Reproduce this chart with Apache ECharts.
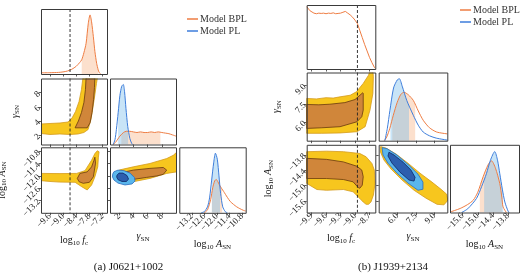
<!DOCTYPE html>
<html>
<head>
<meta charset="utf-8">
<script src="https://cdn.jsdelivr.net/npm/echarts@6/dist/echarts.min.js"></script>
<style>
  html, body { margin: 0; padding: 0; background: #fff; }
  #main { width: 520px; height: 273px; }
</style>
</head>
<body>
<div id="main"></div>
<script>
// ---- tick values ----
var A_FC_TICKS = [-9.6, -9.0, -8.4, -7.8, -7.2];
var A_G_TICKS = [2, 4, 6, 8];
var A_A_TICKS = [-13.2, -12.6, -12.0, -11.4, -10.8];
var B_FC_TICKS = [-9.9, -9.6, -9.3, -9.0, -8.7];
var B_G_TICKS = [6.0, 7.5, 9.0];
var B_A_TICKS = [-15.6, -15.0, -14.4, -13.8];

// injected log10 fc (dashed lines)
var A_FC_TRUE = -8.68;
var B_FC_TRUE = -8.95;

// ---- (a) J0621+1002 : 1D marginals [x, density] ----
var a_fc_bpl = [[-10, 0.02], [-9.6, 0.022], [-9.2, 0.027], [-9.0, 0.035], [-8.8, 0.05], [-8.6, 0.08], [-8.4, 0.13], [-8.25, 0.19], [-8.15, 0.24], [-8.05, 0.36], [-7.95, 0.52], [-7.85, 0.86], [-7.77, 1.0], [-7.7, 0.88], [-7.62, 0.63], [-7.55, 0.38], [-7.47, 0.18], [-7.4, 0.07], [-7.36, 0.03], [-7.3, 0.005]];
var a_g_pl = [[1.15, 0], [1.4, 0.08], [1.6, 0.25], [1.85, 0.53], [2.1, 0.82], [2.35, 0.97], [2.57, 1.0], [2.75, 0.88], [2.95, 0.6], [3.2, 0.3], [3.5, 0.1], [3.75, 0.02], [3.9, 0]];
var a_g_bpl = [[1.15, 0], [1.5, 0.04], [2.1, 0.14], [2.6, 0.2], [3.0, 0.22], [3.5, 0.22], [4.0, 0.21], [4.5, 0.2], [5.0, 0.21], [5.5, 0.2], [6.0, 0.2], [6.5, 0.21], [7.0, 0.2], [7.5, 0.21], [8.0, 0.2], [8.5, 0.19], [9.0, 0.18], [9.5, 0.16], [10.0, 0.14]];
var a_A_pl = [[-12.75, 0], [-12.6, 0.02], [-12.45, 0.1], [-12.35, 0.25], [-12.25, 0.55], [-12.15, 0.85], [-12.07, 1.0], [-11.98, 0.9], [-11.9, 0.62], [-11.82, 0.32], [-11.72, 0.1], [-11.6, 0.02], [-11.5, 0]];
var a_A_bpl = [[-12.6, 0], [-12.45, 0.05], [-12.3, 0.22], [-12.2, 0.42], [-12.1, 0.54], [-12.03, 0.56], [-11.95, 0.52], [-11.85, 0.45], [-11.68, 0.36], [-11.5, 0.26], [-11.36, 0.19], [-11.2, 0.14], [-11.05, 0.1], [-10.9, 0.07], [-10.72, 0.04], [-10.62, 0.03]];
// credible intervals [lo, hi]
var a_fc_bpl_ci = [-8.15, -7.40];
var a_g_bpl_ci = [2.3, 7.8];
var a_g_pl_ci = [1.85, 3.25];
var a_A_bpl_ci = [-12.24, -11.75];
var a_A_pl_ci = [-12.24, -11.85];

// ---- (a) 2D contours [x, y] ----
var a_fcg_bpl_2s = [[-10.0, 3.59], [-9.59, 3.66], [-9.14, 3.73], [-8.77, 3.87], [-8.59, 4.43], [-8.43, 5.35], [-8.27, 6.76], [-8.16, 8.45], [-8.09, 10.2], [-7.43, 10.2], [-7.48, 9.29], [-7.55, 7.74], [-7.64, 5.91], [-7.73, 4.22], [-7.86, 2.81], [-8.05, 2.39], [-8.32, 2.18], [-8.68, 2.11], [-9.14, 2.18], [-9.59, 2.11], [-10.0, 2.25]];
var a_fcg_bpl_1s = [[-8.45, 3.05], [-7.90, 3.05], [-7.77, 3.76], [-7.68, 5.21], [-7.61, 7.04], [-7.57, 8.73], [-7.55, 10.2], [-7.95, 10.2], [-7.98, 8.45], [-8.05, 6.62], [-8.16, 5.21], [-8.30, 4.01]];
var a_fcA_bpl_2s = [[-10, -11.875], [-9.14, -11.885], [-8.38, -11.875], [-8.0, -11.74], [-7.70, -11.23], [-7.55, -10.905], [-7.44, -10.77], [-7.36, -10.82], [-7.39, -11.08], [-7.42, -11.555], [-7.55, -12.04], [-7.70, -12.44], [-7.90, -12.685], [-8.15, -12.525], [-8.45, -12.31], [-9.14, -12.30], [-9.59, -12.27], [-10, -12.23]];
var a_fcA_bpl_1s = [[-8.35, -12.12], [-8.23, -11.875], [-7.90, -11.80], [-7.70, -11.555], [-7.59, -11.23], [-7.55, -11.085], [-7.52, -11.375], [-7.62, -12.04], [-7.80, -12.31], [-8.08, -12.36], [-8.27, -12.28]];
var a_gA_bpl_2s = [[1.16, -11.95], [1.5, -11.8], [2.11, -11.7], [3.98, -11.555], [6.33, -11.39], [8.69, -11.15], [9.62, -10.99], [10.1, -10.84], [10.1, -11.80], [8.69, -11.875], [6.33, -12.12], [3.98, -12.28], [2.11, -12.25], [1.40, -12.2], [1.16, -12.05]];
var a_gA_bpl_1s = [[2.6, -11.9], [2.81, -11.80], [3.98, -11.715], [6.33, -11.63], [8.21, -11.585], [8.69, -11.715], [8.21, -11.92], [7.28, -12.0], [5.87, -12.07], [3.98, -12.17], [2.81, -12.07]];
var a_gA_pl_2s = [[1.08, -11.91], [1.26, -11.79], [1.83, -11.715], [2.67, -11.74], [3.52, -11.86], [4.15, -12.08], [4.22, -12.25], [3.80, -12.39], [2.81, -12.44], [1.83, -12.35], [1.26, -12.2], [1.05, -12.05]];
var a_gA_pl_1s = [[1.69, -11.96], [1.97, -11.86], [2.53, -11.86], [3.09, -11.98], [3.31, -12.15], [3.02, -12.27], [2.39, -12.27], [1.83, -12.18], [1.64, -12.05]];

// ---- (b) J1939+2134 : 1D marginals ----
var b_fc_bpl = [[-10.0, 1.07], [-9.97, 1.04], [-9.93, 1.0], [-9.89, 0.97], [-9.85, 0.96], [-9.8, 0.95], [-9.75, 0.96], [-9.7, 0.955], [-9.65, 0.96], [-9.6, 0.95], [-9.55, 0.96], [-9.5, 0.955], [-9.45, 0.965], [-9.4, 0.95], [-9.35, 0.955], [-9.3, 0.96], [-9.25, 0.975], [-9.2, 0.99], [-9.15, 0.96], [-9.1, 0.93], [-9.05, 0.89], [-9.0, 0.84], [-8.95, 0.78], [-8.9, 0.66], [-8.85, 0.54], [-8.8, 0.42], [-8.75, 0.31], [-8.7, 0.2], [-8.65, 0.11], [-8.6, 0.03], [-8.58, 0.01]];
var b_g_pl = [[5.0, 0], [5.2, 0.2], [5.41, 0.49], [5.7, 0.85], [6.0, 0.98], [6.17, 1.0], [6.4, 0.88], [6.77, 0.65], [7.3, 0.41], [7.7, 0.25], [8.1, 0.14], [8.6, 0.08], [9.19, 0.04], [10.05, 0.01]];
var b_g_bpl = [[4.95, 0], [5.15, 0.06], [5.4, 0.2], [5.68, 0.41], [6.0, 0.62], [6.3, 0.75], [6.55, 0.78], [6.9, 0.74], [7.3, 0.65], [7.7, 0.48], [8.1, 0.33], [8.6, 0.21], [9.19, 0.14], [10.05, 0.11]];
var b_A_pl = [[-15.64, 0], [-15.4, 0.06], [-15.05, 0.23], [-14.85, 0.42], [-14.66, 0.63], [-14.5, 0.85], [-14.33, 0.99], [-14.22, 0.85], [-14.13, 0.63], [-14.03, 0.38], [-13.93, 0.17], [-13.8, 0.02], [-13.75, 0]];
var b_A_bpl = [[-16.08, 0.01], [-15.7, 0.065], [-15.4, 0.13], [-15.18, 0.2], [-15.0, 0.33], [-14.79, 0.58], [-14.6, 0.77], [-14.46, 0.84], [-14.3, 0.72], [-14.13, 0.47], [-14.05, 0.25], [-14.0, 0.09], [-13.87, 0]];
var b_g_bpl_ci = [5.6, 7.45];
var b_g_pl_ci = [5.45, 6.95];
var b_A_bpl_ci = [-14.92, -14.05];
var b_A_pl_ci = [-14.75, -14.0];

// ---- (b) 2D contours ----
var b_fcg_bpl_2s = [[-10, 7.94], [-9.8, 7.9], [-9.6, 8.0], [-9.45, 7.97], [-9.31, 8.07], [-9.1, 8.2], [-8.97, 8.48], [-8.83, 9.16], [-8.72, 9.83], [-8.69, 10.2], [-8.63, 10.2], [-8.62, 9.7], [-8.63, 8.35], [-8.69, 6.99], [-8.79, 5.64], [-8.96, 5.23], [-9.31, 5.13], [-9.7, 5.1], [-10, 5.1]];
var b_fcg_bpl_1s = [[-10, 7.45], [-9.75, 7.42], [-9.52, 7.47], [-9.21, 7.6], [-9.0, 7.85], [-8.84, 8.4], [-8.83, 8.35], [-8.83, 6.99], [-8.86, 6.45], [-8.96, 6.04], [-9.31, 5.64], [-9.7, 5.55], [-10, 5.5]];
var b_fcA_bpl_2s = [[-10, -13.67], [-9.59, -13.65], [-9.24, -13.67], [-8.90, -13.74], [-8.77, -13.87], [-8.65, -14.13], [-8.60, -14.39], [-8.585, -14.91], [-8.62, -15.37], [-8.67, -15.64], [-8.72, -15.73], [-8.77, -15.73], [-8.83, -15.64], [-8.90, -15.5], [-9.04, -15.24], [-9.24, -15.15], [-9.59, -15.18], [-9.79, -15.15], [-10, -14.91]];
var b_fcA_bpl_1s = [[-10, -13.93], [-9.59, -13.97], [-9.24, -14.07], [-8.96, -14.24], [-8.86, -14.39], [-8.83, -14.65], [-8.85, -14.98], [-8.90, -15.1], [-8.93, -15.08], [-9.04, -14.85], [-9.24, -14.76], [-9.59, -14.72], [-10, -14.72]];
var b_gA_bpl_2s = [[4.65, -13.47], [5.09, -13.53], [5.90, -13.76], [6.87, -14.12], [7.84, -14.51], [8.81, -14.86], [9.54, -15.14], [9.99, -15.33], [10.1, -15.57], [9.78, -15.75], [9.22, -15.73], [8.33, -15.49], [7.36, -15.18], [6.39, -14.78], [5.50, -14.35], [4.93, -14.0], [4.65, -13.69]];
var b_gA_pl_2s = [[4.77, -13.51], [5.17, -13.55], [5.98, -13.80], [6.95, -14.2], [7.68, -14.55], [8.08, -14.86], [8.08, -15.14], [7.68, -15.18], [6.87, -14.9], [5.98, -14.51], [5.25, -14.12], [4.85, -13.8]];
var b_gA_pl_1s = [[5.33, -13.69], [5.74, -13.80], [6.47, -14.08], [7.11, -14.39], [7.44, -14.67], [7.36, -14.82], [6.95, -14.78], [6.22, -14.47], [5.58, -14.12], [5.25, -13.84]];

// ---- styles ----
var SERIF = '"Liberation Serif","DejaVu Serif",serif';
var ORANGE = '#ee7d43';
var BLUE = '#3c7ddb';
var SHADE_O = 'rgba(246,160,100,0.32)';
var SHADE_B = 'rgba(110,185,235,0.38)';
var YEL = '#f7c61e', YEL_E = '#d49a1a';
var BRN = '#d0863a', BRN_E = '#6a3a0e';
var LBL = '#5ab6ec', LBL_E = '#2a6cc0';
var DBL = '#2c5eae', DBL_E = '#0c2766';

var NAME_FC = '{r|log}{s|10}{r| }{i|f}{s|c}';
var NAME_G = '{i|γ}{s|SN}';
var NAME_A = '{r|log}{s|10}{r| }{i|A}{s|SN}';
var nameRich = {
  r: { fontFamily: SERIF, fontSize: 10, lineHeight: 12, color: '#111' },
  i: { fontFamily: SERIF, fontSize: 10, fontStyle: 'italic', lineHeight: 12, color: '#111' },
  s: { fontFamily: SERIF, fontSize: 7, lineHeight: 6, verticalAlign: 'bottom', color: '#111' }
};

function fmt(dec) {
  return function (v) { return v.toFixed(dec).replace('-', '\u2212'); };
}

// panel layout: rect, x range, y range, ticks, label flags, names
var panels = [
  { r: [41, 9, 66, 65], x: [-10, -7], y: [0, 1.1], xt: A_FC_TICKS },
  { r: [41, 78.5, 66, 66], x: [-10, -7], y: [0.7, 10], xt: A_FC_TICKS, yt: A_G_TICKS, yl: fmt(0), yn: NAME_G, yg: 20 },
  { r: [110, 78.5, 66, 66], x: [0.7, 10], y: [0, 1.1], xt: A_G_TICKS },
  { r: [41, 147.3, 66, 65.5], x: [-10, -7], y: [-13.8, -10.6], xt: A_FC_TICKS, yt: A_A_TICKS, xl: fmt(1), yl: fmt(1), xn: NAME_FC, xg: 22, yn: NAME_A, yg: 33 },
  { r: [110, 147.3, 66, 65.5], x: [0.7, 10], y: [-13.8, -10.6], xt: A_G_TICKS, yt: A_A_TICKS, xl: fmt(0), xn: NAME_G, xg: 18 },
  { r: [179.3, 147.3, 66.4, 65.5], x: [-13.8, -10.62], y: [0, 1.1], xt: A_A_TICKS, xl: fmt(1), xn: NAME_A, xg: 26 },
  { r: [306.7, 5, 68.6, 64], x: [-10, -8.58], y: [0, 1.1], xt: B_FC_TICKS },
  { r: [306.7, 72.5, 68.6, 68.2], x: [-10, -8.58], y: [4.5, 10.05], xt: B_FC_TICKS, yt: B_G_TICKS, yl: fmt(1), yn: NAME_G, yg: 24 },
  { r: [378.7, 72.5, 68.6, 68.2], x: [4.5, 10.05], y: [0, 1.1], xt: B_G_TICKS },
  { r: [306.7, 144.8, 68.6, 67.7], x: [-10, -8.58], y: [-16.05, -13.4], xt: B_FC_TICKS, yt: B_A_TICKS, xl: fmt(1), yl: fmt(1), xn: NAME_FC, xg: 20, yn: NAME_A, yg: 32 },
  { r: [378.7, 144.8, 68.6, 67.7], x: [4.5, 10.05], y: [-16.05, -13.4], xt: B_G_TICKS, yt: B_A_TICKS, xl: fmt(1), xn: NAME_G, xg: 18 },
  { r: [450, 144.8, 69, 67.7], x: [-16.1, -13.37], y: [0, 1.1], xt: B_A_TICKS, xl: fmt(1), xn: NAME_A, xg: 26 }
];

function pick(arr, parity) {
  return (arr || []).filter(function (v, k) { return k % 2 === parity; });
}

// main axis: ticks + even-index labels; a twin axis carries odd-index labels
// (keeps neighbouring rotated labels from being dropped as overlapping)
function axisOf(i, range, ticks, labFmt, name, gap, isY, twin) {
  return {
    gridIndex: i, type: 'value', min: range[0], max: range[1],
    position: isY ? 'left' : 'bottom',
    axisLine: { show: false }, splitLine: { show: false },
    axisTick: { show: !twin && !!ticks, length: 2.5, lineStyle: { color: '#333', width: 0.8 }, customValues: ticks || [] },
    axisLabel: {
      show: !!labFmt, customValues: pick(ticks, twin ? 1 : 0), rotate: 45, margin: 2,
      fontFamily: SERIF, fontSize: 9, color: '#222', formatter: labFmt || null
    },
    name: twin ? '' : (name || ''), nameLocation: 'middle', nameGap: gap || 0,
    nameRotate: isY ? 90 : 0,
    nameTextStyle: { rich: nameRich }
  };
}

function curve(i, name, pts, color, smooth) {
  return {
    type: 'line', name: name, xAxisIndex: i, yAxisIndex: i, data: pts,
    showSymbol: false, smooth: smooth === undefined ? 0.25 : smooth,
    color: color, silent: true, z: 4,
    lineStyle: { color: color, width: 1 }
  };
}

// area under a curve between lo and hi
function shadePts(pts, ci) {
  function at(x) {
    for (var k = 1; k < pts.length; k++) {
      if (pts[k][0] >= x) {
        var a = pts[k - 1], b = pts[k];
        return a[1] + (b[1] - a[1]) * (x - a[0]) / (b[0] - a[0]);
      }
    }
    return 0;
  }
  var out = [[ci[0], 0], [ci[0], at(ci[0])]];
  pts.forEach(function (p) { if (p[0] > ci[0] && p[0] < ci[1]) out.push(p); });
  out.push([ci[1], at(ci[1])], [ci[1], 0]);
  return out;
}

function poly(i, pts, fill, stroke, z) {
  return {
    type: 'custom', xAxisIndex: i, yAxisIndex: i, silent: true, clip: true, z: z || 2,
    data: [pts[0]],
    renderItem: function (params, api) {
      return {
        type: 'polygon',
        shape: { points: pts.map(function (p) { return api.coord(p); }) },
        style: { fill: fill, stroke: stroke, lineWidth: stroke ? 0.8 : 0 }
      };
    }
  };
}

function shade(i, pts, ci, fill) {
  return poly(i, shadePts(pts, ci), fill, null, 1);
}

function dash(i, x) {
  return {
    type: 'custom', xAxisIndex: i, yAxisIndex: i, silent: true, z: 6,
    data: [[x, panels[i].y[0]]],
    renderItem: function (params, api) {
      var p = api.coord([api.value(0), api.value(1)]);
      var cs = params.coordSys;
      return {
        type: 'line',
        shape: { x1: p[0], y1: cs.y, x2: p[0], y2: cs.y + cs.height },
        style: { stroke: '#222', lineWidth: 0.9, lineDash: [3, 2] }
      };
    }
  };
}

var series = [
  // (a)
  shade(0, a_fc_bpl, a_fc_bpl_ci, SHADE_O),
  curve(0, 'Model BPL', a_fc_bpl, ORANGE),
  dash(0, A_FC_TRUE),
  poly(1, a_fcg_bpl_2s, YEL, YEL_E), poly(1, a_fcg_bpl_1s, BRN, BRN_E),
  dash(1, A_FC_TRUE),
  shade(2, a_g_bpl, a_g_bpl_ci, SHADE_O), shade(2, a_g_pl, a_g_pl_ci, SHADE_B),
  curve(2, 'Model BPL', a_g_bpl, ORANGE), curve(2, 'Model PL', a_g_pl, BLUE),
  poly(3, a_fcA_bpl_2s, YEL, YEL_E), poly(3, a_fcA_bpl_1s, BRN, BRN_E),
  dash(3, A_FC_TRUE),
  poly(4, a_gA_bpl_2s, YEL, YEL_E), poly(4, a_gA_bpl_1s, BRN, BRN_E),
  poly(4, a_gA_pl_2s, LBL, LBL_E, 3), poly(4, a_gA_pl_1s, DBL, DBL_E, 3),
  shade(5, a_A_bpl, a_A_bpl_ci, SHADE_O), shade(5, a_A_pl, a_A_pl_ci, SHADE_B),
  curve(5, 'Model BPL', a_A_bpl, ORANGE), curve(5, 'Model PL', a_A_pl, BLUE),
  // (b)
  curve(6, 'Model BPL', b_fc_bpl, ORANGE, 0),
  dash(6, B_FC_TRUE),
  poly(7, b_fcg_bpl_2s, YEL, YEL_E), poly(7, b_fcg_bpl_1s, BRN, BRN_E),
  dash(7, B_FC_TRUE),
  shade(8, b_g_bpl, b_g_bpl_ci, SHADE_O), shade(8, b_g_pl, b_g_pl_ci, SHADE_B),
  curve(8, 'Model BPL', b_g_bpl, ORANGE), curve(8, 'Model PL', b_g_pl, BLUE),
  poly(9, b_fcA_bpl_2s, YEL, YEL_E), poly(9, b_fcA_bpl_1s, BRN, BRN_E),
  dash(9, B_FC_TRUE),
  poly(10, b_gA_bpl_2s, YEL, YEL_E),
  poly(10, b_gA_pl_2s, LBL, LBL_E, 3), poly(10, b_gA_pl_1s, DBL, DBL_E, 3),
  shade(11, b_A_bpl, b_A_bpl_ci, SHADE_O), shade(11, b_A_pl, b_A_pl_ci, SHADE_B),
  curve(11, 'Model BPL', b_A_bpl, ORANGE), curve(11, 'Model PL', b_A_pl, BLUE)
];

var frames = panels.map(function (p) {
  return {
    type: 'rect', silent: true, z: 100,
    shape: { x: p.r[0] + 0.5, y: p.r[1] + 0.5, width: p.r[2], height: p.r[3] },
    style: { fill: 'none', stroke: '#3a3a3a', lineWidth: 1 }
  };
});
frames.push(
  { type: 'text', silent: true, x: 128.5, y: 267, style: { text: '(a) J0621+1002', font: '11px ' + SERIF, fill: '#111', textAlign: 'center', textVerticalAlign: 'middle' } },
  { type: 'text', silent: true, x: 393, y: 267, style: { text: '(b) J1939+2134', font: '11px ' + SERIF, fill: '#111', textAlign: 'center', textVerticalAlign: 'middle' } }
);

function legendAt(left, top) {
  return {
    left: left, top: top, orient: 'vertical', icon: 'rect',
    itemWidth: 11, itemHeight: 1.5, itemGap: 2, selectedMode: false,
    data: ['Model BPL', 'Model PL'],
    textStyle: { fontFamily: SERIF, fontSize: 10, color: '#333', padding: [0, 0, 0, -3] }
  };
}

var xAxes = panels.map(function (p, i) { return axisOf(i, p.x, p.xt, p.xl, p.xn, p.xg, false, false); });
var yAxes = panels.map(function (p, i) { return axisOf(i, p.y, p.yt, p.yl, p.yn, p.yg, true, false); });
panels.forEach(function (p, i) {
  if (p.xl) xAxes.push(axisOf(i, p.x, p.xt, p.xl, null, 0, false, true));
  if (p.yl) yAxes.push(axisOf(i, p.y, p.yt, p.yl, null, 0, true, true));
});

var chart = echarts.init(document.getElementById('main'), null, { renderer: 'canvas' });
chart.setOption({
  animation: false,
  backgroundColor: '#fff',
  legend: [legendAt(182, 9), legendAt(455, 0)],
  grid: panels.map(function (p) {
    return { left: p.r[0], top: p.r[1], width: p.r[2], height: p.r[3], show: false, containLabel: false, outerBoundsMode: 'none' };
  }),
  xAxis: xAxes,
  yAxis: yAxes,
  series: series,
  graphic: frames
});
</script>
</body>
</html>
